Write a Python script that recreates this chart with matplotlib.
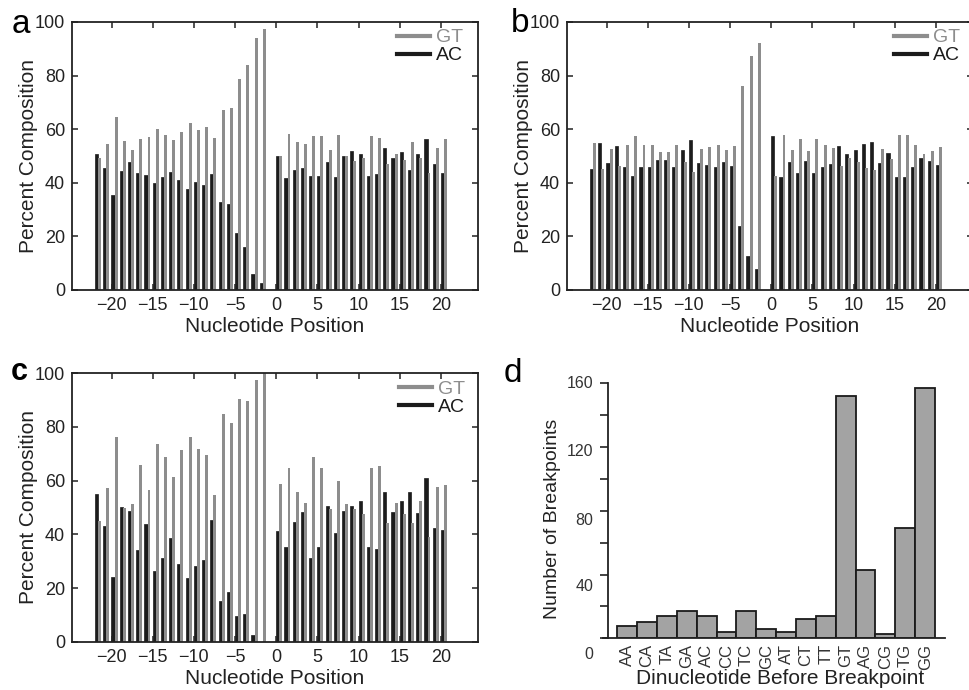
import numpy as np
import matplotlib
matplotlib.use("Agg")
import matplotlib.pyplot as plt
from matplotlib.lines import Line2D

plt.rcParams["font.family"] = ["Liberation Sans", "DejaVu Sans"]

# nucleotide positions (no bar at -1)
positions = list(range(-22, -1)) + list(range(0, 21))

# panel a
ac_a = [50.6, 45.6, 35.6, 44.5, 47.6, 43.8, 43.0, 40.0, 42.0, 44.2, 41.0, 37.8, 40.2, 39.1, 43.3,
        33.0, 32.0, 21.2, 16.2, 6.0, 2.5,
        50.0, 41.9, 44.8, 45.6, 42.5, 42.6, 47.9, 42.3, 50.0, 52.0, 50.8, 42.5, 43.1, 53.1, 49.1,
        51.5, 44.8, 50.6, 56.4, 46.9, 43.8]
gt_a = [49.4, 54.4, 64.4, 55.5, 52.4, 56.2, 57.0, 60.0, 58.0, 55.8, 59.0, 62.2, 59.8, 60.9, 56.7,
        67.0, 68.0, 78.8, 83.8, 94.0, 97.5,
        50.0, 58.1, 55.2, 54.4, 57.5, 57.4, 52.1, 57.7, 50.0, 48.0, 49.2, 57.5, 56.9, 46.9, 50.9,
        48.5, 55.2, 49.4, 43.6, 53.1, 56.2]

# panel b
ac_b = [45.1, 54.9, 47.4, 53.9, 45.9, 42.5, 45.9, 45.9, 48.5, 48.5, 45.9, 52.1, 56.0, 47.4, 46.5,
        45.9, 47.6, 46.2, 23.8, 12.8, 7.9,
        57.3, 42.3, 47.6, 43.5, 48.3, 43.5, 45.9, 47.1, 53.9, 50.6, 52.1, 54.5, 55.4, 47.3, 51.3,
        42.3, 42.3, 45.9, 49.4, 48.0, 46.6]
gt_b = [54.9, 45.1, 52.6, 46.1, 54.1, 57.5, 54.1, 54.1, 51.5, 51.5, 54.1, 47.9, 44.0, 52.6, 53.5,
        54.1, 52.4, 53.8, 76.2, 87.2, 92.1,
        42.7, 57.7, 52.4, 56.5, 51.7, 56.5, 54.1, 52.9, 46.1, 49.4, 47.9, 45.5, 44.6, 52.7, 48.7,
        57.7, 57.7, 54.1, 50.6, 52.0, 53.4]

# panel c
ac_c = [54.9, 43.1, 24.0, 50.3, 48.8, 34.2, 43.7, 26.3, 31.3, 38.8, 28.8, 23.9, 28.3, 30.4, 45.3,
        15.3, 18.5, 9.4, 10.2, 2.4, 0.0,
        41.4, 35.4, 44.5, 48.2, 31.3, 35.4, 50.7, 40.4, 48.7, 50.7, 52.4, 35.4, 34.5, 55.7, 48.2,
        52.4, 55.7, 47.8, 61.1, 42.5, 41.6]
gt_c = [45.1, 57.2, 76.3, 49.8, 51.4, 66.0, 56.4, 73.8, 68.8, 61.4, 71.3, 76.2, 71.8, 69.7, 54.8,
        85.0, 81.6, 90.6, 89.8, 97.6, 100.0,
        58.8, 64.7, 55.6, 51.8, 68.8, 64.7, 49.4, 59.7, 51.4, 49.4, 47.7, 64.7, 65.5, 44.4, 51.8,
        47.7, 44.4, 52.3, 39.0, 57.6, 58.5]

# panel d
dinucleotides = ["AA", "CA", "TA", "GA", "AC", "CC", "TC", "GC",
                 "AT", "CT", "TT", "GT", "AG", "CG", "TG", "GG"]
breakpoints = [8, 10, 14, 17, 14, 4, 17, 6, 4, 12, 14, 152, 43, 3, 69, 157]
d_tick_values = ["0", "40", "80", "120", "160"]
d_tick_pos = [-10.4, 32.2, 74.2, 116.9, 160]

GRAY = "#8d8d8d"
BLACK = "#1c1c1c"

fig = plt.figure(figsize=(9.69, 6.9), dpi=100)
W, H = 969.0, 690.0


def rect(left, top, right, bottom):
    return [left / W, 1 - bottom / H, (right - left) / W, (bottom - top) / H]


def composition_panel(r, ac, gt, legend_x):
    ax = fig.add_axes(r)
    x = np.array(positions)
    ax.bar(x + 0.18, ac, width=0.38, color=BLACK, edgecolor=BLACK, linewidth=0.5)
    ax.bar(x + 0.55, gt, width=0.36, color=GRAY, linewidth=0)
    ax.set_xlim(-24.8, 24.5)
    ax.set_ylim(0, 100)
    ax.set_xticks([-20, -15, -10, -5, 0, 5, 10, 15, 20])
    ax.set_yticks(range(0, 101, 20))
    ax.tick_params(direction="in", top=True, right=True, length=4, width=1.1,
                   labelsize=13, pad=5, colors="#222222")
    for s in ax.spines.values():
        s.set_linewidth(1.3)
        s.set_color("#222222")
    ax.set_xlabel("Nucleotide Position", fontsize=15, color="#222222")
    ax.set_ylabel("Percent Composition", fontsize=15, color="#222222")
    ax.yaxis.set_label_coords(-0.083, 0.5)
    ax.xaxis.set_label_coords(0.5, -0.1)
    handles = [Line2D([], [], color=GRAY, lw=3), Line2D([], [], color=BLACK, lw=3)]
    leg = ax.legend(handles, ["GT", "AC"], loc="upper left", bbox_to_anchor=(legend_x, 0.975),
                    frameon=False, fontsize=14, handlelength=1.7, handletextpad=0.3,
                    labelspacing=0.02, borderpad=0, borderaxespad=0)
    for t, c in zip(leg.get_texts(), [GRAY, BLACK]):
        t.set_color(c)
    return ax


ax_a = composition_panel(rect(72, 22, 478, 290), ac_a, gt_a, 0.80)
ax_b = composition_panel(rect(567, 22, 973, 290), ac_b, gt_b, 0.805)
ax_c = composition_panel(rect(72, 373.3, 478, 641.7), ac_c, gt_c, 0.805)

# panel d
ax_d = fig.add_axes(rect(608.3, 383.3, 945, 638.3))
xd = np.arange(len(dinucleotides))
ax_d.bar(xd, breakpoints, width=1.0, color="#a3a3a3", edgecolor="#1a1a1a", linewidth=1.3)
ax_d.set_xlim(-0.95, 16.0)
ax_d.set_ylim(0, 160)
ax_d.spines["top"].set_visible(False)
ax_d.spines["right"].set_visible(False)
ax_d.spines["left"].set_linewidth(1.3)
ax_d.spines["bottom"].set_linewidth(1.3)
ax_d.spines["left"].set_color("#222222")
ax_d.spines["bottom"].set_color("#222222")
ax_d.spines["bottom"].set_bounds(-1.22, 16.0)
ax_d.set_xticks(xd)
ax_d.set_xticklabels(dinucleotides, rotation=90, fontsize=12, color="#333333")
ax_d.tick_params(axis="x", length=0, pad=4)
ax_d.set_yticks(range(0, 161, 20))
ax_d.set_yticklabels([])
ax_d.tick_params(axis="y", direction="out", length=6, width=1.2, colors="#222222")
for val, pos in zip(d_tick_values, d_tick_pos):
    ax_d.text(-0.045, pos, val, transform=ax_d.get_yaxis_transform(), ha="right",
              va="center", fontsize=11.5, color="#333333")
ax_d.set_xlabel("Dinucleotide Before Breakpoint", fontsize=15, color="#222222")
ax_d.xaxis.set_label_coords(0.51, -0.12)
ax_d.set_ylabel("Number of Breakpoints", fontsize=14, color="#222222")
ax_d.yaxis.set_label_coords(-0.14, 0.47)

# panel letters
fig.text(12 / W, 1 - 33 / H, "a", fontsize=24, va="baseline")
fig.text(511 / W, 1 - 32 / H, "b", fontsize=24, va="baseline")
fig.text(11 / W, 1 - 380 / H, "c", fontsize=22, va="baseline", fontweight="bold")
fig.text(504 / W, 1 - 382 / H, "d", fontsize=24, va="baseline")

plt.savefig("out.png", dpi=100)
